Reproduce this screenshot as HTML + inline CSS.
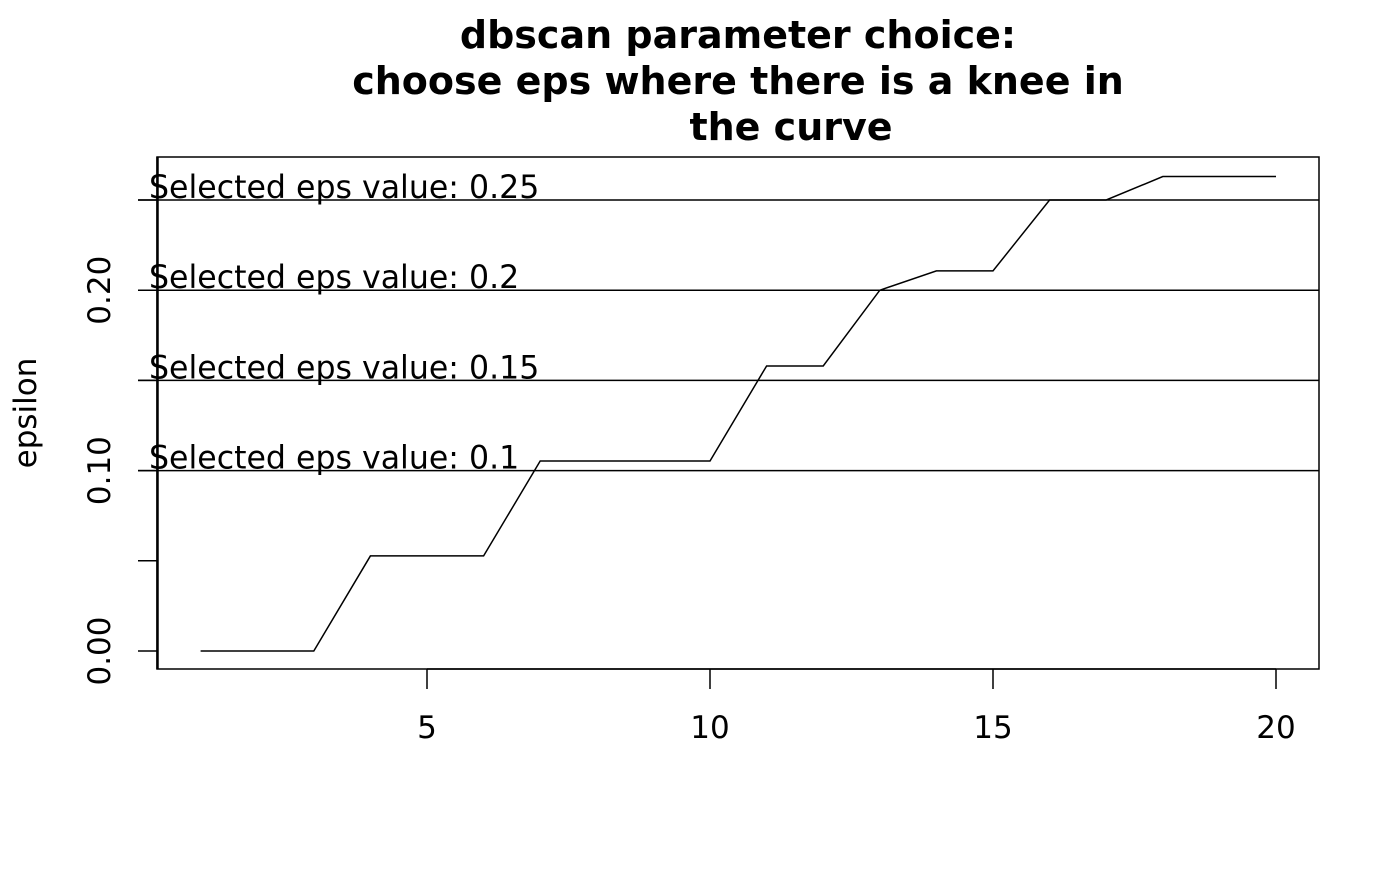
<!DOCTYPE html>
<html><head><meta charset="utf-8"><style>
html,body{margin:0;padding:0;background:#fff;}
svg text{font-family:"DejaVu Sans","Liberation Sans",sans-serif;fill:#000;}
</style></head><body>
<svg id="chart" width="1400" height="866" xmlns="http://www.w3.org/2000/svg">
<g font-weight="bold" font-size="38" text-anchor="middle">
<text x="738" y="48" font-size="38" font-weight="bold">dbscan parameter choice:</text>
<text x="738" y="94" font-size="38" font-weight="bold">choose eps where there is a knee in</text>
<text x="791" y="140" font-size="38" font-weight="bold">the curve</text>
</g>
<g id="hlines"></g>
<rect x="157" y="157" width="1162" height="512" fill="none" stroke="#000" stroke-width="1.5"/>
<line x1="157.5" x2="157.5" y1="157" y2="669" stroke="#000" stroke-width="2.5"/>
<g id="xaxis"></g>
<g id="yaxis"></g>
<text transform="translate(36,413) rotate(-90)" text-anchor="middle" font-size="31">epsilon</text>
<g id="series"></g>
</svg>
<script>
const kValues=[1,2,3,4,5,6,7,8,9,10,11,12,13,14,15,16,17,18,19,20];
const distValues=[0,0,0,0.0527,0.0527,0.0527,0.1053,0.1053,0.1053,0.1053,0.158,0.158,0.2,0.2107,0.2107,0.25,0.25,0.263,0.263,0.263];
const xTicks=[5,10,15,20];
const yTicks=[0,0.05,0.1,0.15,0.2,0.25];
const yTickLabels=["0.00","","0.10","","0.20",""];
const epsValues=[0.1,0.15,0.2,0.25];
const epsLabels=["0.1","0.15","0.2","0.25"];
const NS="http://www.w3.org/2000/svg";
const X=v=>427+(v-5)*56.6;
const Y=v=>651-v*1804;
function mk(t,a,p){const e=document.createElementNS(NS,t);for(const k in a)e.setAttribute(k,a[k]);p.appendChild(e);return e;}
const xa=document.getElementById('xaxis');
mk('line',{x1:X(xTicks[0]),x2:X(xTicks[xTicks.length-1]),y1:669,y2:669,stroke:'#000','stroke-width':1.5},xa);
xTicks.forEach(t=>{
 const l=mk('line',{x1:X(t),x2:X(t),y1:669,y2:689,stroke:'#000','stroke-width':1.5},xa);
 
 
 const tx=mk('text',{x:X(t),y:738,'text-anchor':'middle','font-size':31},xa);
 
 
 tx.textContent=t;
});
const ya=document.getElementById('yaxis');
yTicks.forEach((t,i)=>{
 const l=mk('line',{x1:138,x2:157,y1:Y(t),y2:Y(t),stroke:'#000','stroke-width':1.5},ya);
 
 
 if(yTickLabels[i]){
  const tx=mk('text',{transform:`translate(110,${Y(t)}) rotate(-90)`,'text-anchor':'middle','font-size':31},ya);
  
  
  tx.textContent=yTickLabels[i];
 }
});
const hl=document.getElementById('hlines');
epsValues.forEach((v,i)=>{
 const l=mk('line',{x1:138,x2:1319,y1:Y(v),y2:Y(v),stroke:'#000','stroke-width':1.5},hl);
 
 
 const tx=mk('text',{x:149,y:Y(v)-2,'font-size':31.6},hl);
 
 
 tx.textContent='Selected eps value: '+epsLabels[i];
});
const s=document.getElementById('series');
const p=mk('polyline',{points:kValues.map((k,i)=>X(k)+','+Y(distValues[i])).join(' '),fill:'none',stroke:'#000','stroke-width':1.5},s);


</script>
</body></html>
